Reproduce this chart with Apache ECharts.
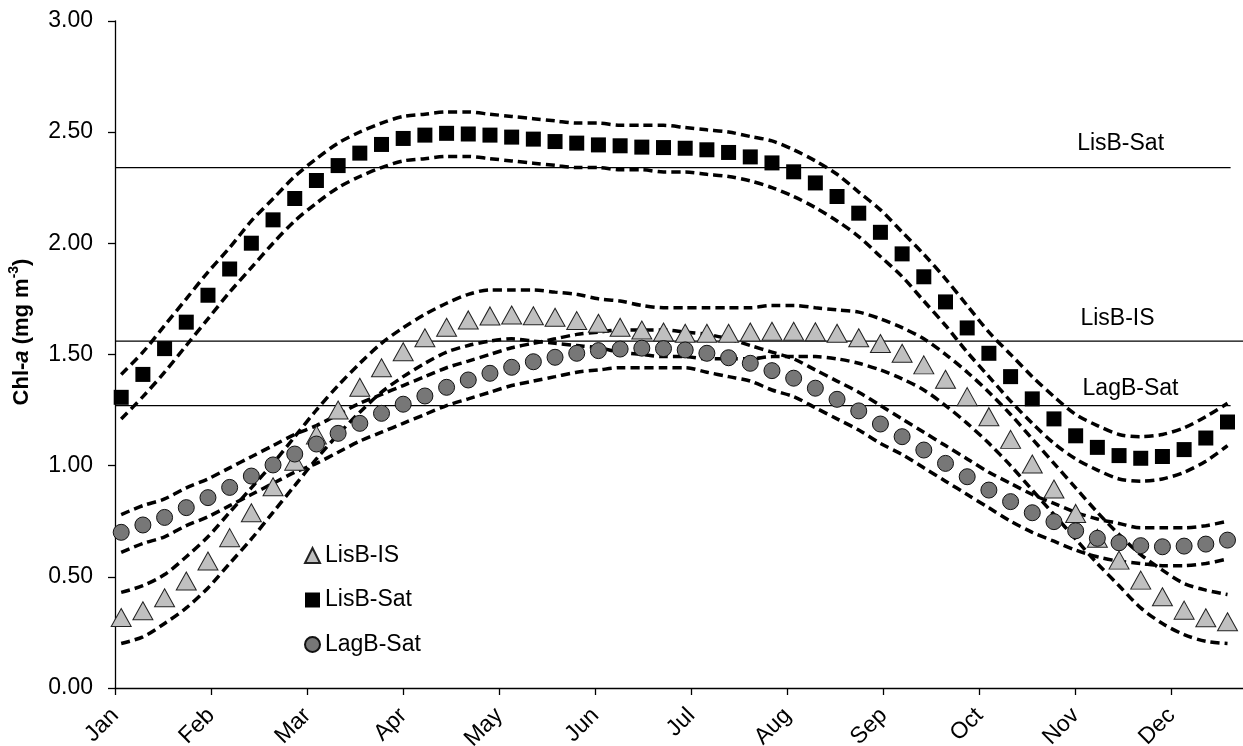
<!DOCTYPE html>
<html>
<head>
<meta charset="utf-8">
<script src="https://cdn.jsdelivr.net/npm/echarts@6/dist/echarts.min.js"></script>
<style>html,body{margin:0;padding:0;background:#fff}#c{width:1243px;height:746px}</style>
</head>
<body>
<div id="c"></div>
<script>
// ---- data ----
const MONTHS = ['Jan','Feb','Mar','Apr','May','Jun','Jul','Aug','Sep','Oct','Nov','Dec'];
const MONTH_STEP = 31;                       // axis day units between month ticks
const WEEK_DAYS = Array.from({length: 52}, (_, i) => 2 + 7 * i);  // weekly sample positions

const LISB_IS = [0.317,0.347,0.406,0.481,0.571,0.676,0.788,0.905,1.020,1.138,1.250,1.352,1.440,1.512,1.575,1.622,1.655,1.673,1.677,1.674,1.667,1.652,1.640,1.622,1.610,1.601,1.595,1.595,1.595,1.601,1.604,1.604,1.602,1.595,1.575,1.549,1.505,1.453,1.388,1.310,1.220,1.118,1.007,0.895,0.785,0.673,0.575,0.485,0.410,0.350,0.316,0.298];
const LISB_SAT = [1.307,1.410,1.526,1.645,1.766,1.884,2.000,2.105,2.201,2.282,2.349,2.405,2.444,2.471,2.486,2.494,2.491,2.486,2.477,2.468,2.457,2.450,2.442,2.438,2.432,2.430,2.427,2.420,2.408,2.388,2.361,2.321,2.271,2.210,2.135,2.049,1.952,1.849,1.736,1.619,1.505,1.400,1.300,1.210,1.134,1.082,1.045,1.033,1.041,1.072,1.124,1.196];
const LAGB_SAT = [0.700,0.733,0.767,0.811,0.856,0.902,0.953,1.003,1.052,1.097,1.145,1.190,1.235,1.276,1.313,1.352,1.385,1.415,1.442,1.467,1.487,1.505,1.517,1.524,1.528,1.526,1.520,1.505,1.485,1.460,1.427,1.393,1.348,1.298,1.246,1.187,1.130,1.070,1.010,0.950,0.890,0.838,0.788,0.748,0.707,0.673,0.653,0.640,0.635,0.638,0.647,0.665];

const LISB_SAT_UP = [1.41,1.51,1.63,1.75,1.87,1.98,2.10,2.20,2.30,2.38,2.45,2.50,2.54,2.57,2.58,2.59,2.59,2.58,2.57,2.56,2.55,2.54,2.54,2.53,2.53,2.53,2.52,2.51,2.50,2.48,2.46,2.42,2.37,2.31,2.23,2.15,2.05,1.95,1.84,1.72,1.60,1.50,1.40,1.31,1.23,1.18,1.14,1.13,1.14,1.17,1.22,1.28];
const LISB_SAT_LO = [1.21,1.31,1.42,1.54,1.66,1.78,1.89,2.00,2.10,2.18,2.25,2.30,2.34,2.37,2.38,2.39,2.39,2.38,2.37,2.36,2.35,2.34,2.34,2.33,2.33,2.32,2.32,2.31,2.30,2.28,2.25,2.21,2.16,2.10,2.03,1.94,1.85,1.74,1.63,1.51,1.40,1.29,1.19,1.10,1.03,0.98,0.94,0.93,0.94,0.97,1.02,1.09];
const LISB_IS_UP = [0.43,0.46,0.51,0.59,0.68,0.79,0.90,1.01,1.13,1.25,1.36,1.46,1.55,1.62,1.68,1.73,1.77,1.79,1.79,1.79,1.78,1.77,1.75,1.74,1.72,1.71,1.71,1.71,1.71,1.71,1.72,1.72,1.71,1.70,1.69,1.66,1.62,1.57,1.50,1.42,1.33,1.23,1.12,1.01,0.90,0.79,0.69,0.60,0.53,0.47,0.44,0.42];
const LISB_IS_LO = [0.20,0.23,0.29,0.36,0.45,0.56,0.67,0.79,0.91,1.03,1.14,1.24,1.33,1.40,1.46,1.51,1.54,1.56,1.57,1.56,1.55,1.54,1.53,1.51,1.50,1.49,1.49,1.48,1.48,1.48,1.49,1.49,1.49,1.48,1.46,1.43,1.39,1.34,1.27,1.19,1.10,1.00,0.89,0.78,0.67,0.56,0.46,0.36,0.29,0.24,0.21,0.20];
const LAGB_SAT_UP = [0.78,0.82,0.85,0.90,0.94,0.99,1.04,1.09,1.14,1.18,1.23,1.28,1.32,1.36,1.40,1.44,1.47,1.50,1.53,1.55,1.57,1.59,1.60,1.61,1.61,1.61,1.60,1.59,1.57,1.54,1.51,1.48,1.43,1.38,1.33,1.27,1.21,1.15,1.09,1.03,0.97,0.92,0.87,0.83,0.79,0.76,0.74,0.72,0.72,0.72,0.73,0.75];
const LAGB_SAT_LO = [0.61,0.65,0.68,0.73,0.77,0.82,0.87,0.92,0.97,1.01,1.06,1.11,1.15,1.19,1.23,1.27,1.30,1.33,1.36,1.38,1.40,1.42,1.43,1.44,1.44,1.44,1.44,1.42,1.40,1.38,1.34,1.31,1.26,1.21,1.16,1.10,1.05,0.99,0.93,0.87,0.81,0.75,0.70,0.66,0.62,0.59,0.57,0.56,0.55,0.55,0.56,0.58];

const REF_NAMES = ['LisB-Sat', 'LisB-IS', 'LagB-Sat'];
const REF_VALUES = [2.34, 1.56, 1.27];
const REF_END_DAYS = [360, 364, 360];
const Y_TICKS = [0, 0.5, 1.0, 1.5, 2.0, 2.5, 3.0];

// ---- styling ----
const FONT = '"Liberation Sans", Arial, Helvetica, sans-serif';
const FS = 23;
const LABEL_DAYS = [324.5, 323.5, 327.7];
const LABEL_RISE = [24, 22, 17];

const pts = arr => WEEK_DAYS.map((d, i) => [d, arr[i]]);
const dashed = arr => ({
  type: 'line', data: pts(arr), symbol: 'none', showSymbol: false, smooth: 0.3,
  silent: true, z: 2, legendHoverLink: false,
  lineStyle: { color: '#000', width: 3.5, type: [9, 5] }
});

const chart = echarts.init(document.getElementById('c'), null, { renderer: 'canvas' });

const series = [];
REF_VALUES.forEach((v, i) => series.push({
  type: 'line', data: [[0, v], [REF_END_DAYS[i], v]], symbol: 'none', silent: true, z: 1,
  lineStyle: { color: '#000', width: 1.3 }
}));
[LISB_SAT_UP, LISB_SAT_LO, LISB_IS_UP, LISB_IS_LO, LAGB_SAT_UP, LAGB_SAT_LO].forEach(a => series.push(dashed(a)));
series.push({
  name: 'LisB-IS', type: 'scatter', symbol: 'triangle', symbolSize: [20, 18], z: 3,
  itemStyle: { color: '#c0c0c0', borderColor: '#222', borderWidth: 1, opacity: 1 },
  data: pts(LISB_IS)
});
series.push({
  name: 'LisB-Sat', type: 'scatter', symbol: 'rect', symbolSize: 15, z: 4,
  itemStyle: { color: '#000', opacity: 1 },
  data: pts(LISB_SAT)
});
series.push({
  name: 'LagB-Sat', type: 'scatter', symbol: 'circle', symbolSize: 16, z: 5,
  itemStyle: { color: '#777', borderColor: '#111', borderWidth: 1, opacity: 1 },
  data: pts(LAGB_SAT)
});

chart.setOption({
  animation: false,
  backgroundColor: '#fff',
  grid: { left: 115, right: 0, top: 20.8, bottom: 58, containLabel: false, outerBoundsMode: 'none' },
  xAxis: {
    type: 'value', min: 0, max: 364, interval: MONTH_STEP,
    axisLine: { show: true, lineStyle: { color: '#000', width: 1.3 } },
    axisTick: { show: true, length: 7, lineStyle: { color: '#000', width: 1.3 } },
    axisLabel: {
      rotate: 45, margin: 24, fontSize: FS, color: '#000', fontFamily: FONT,
      showMaxLabel: false, hideOverlap: false,
      formatter: v => (v % MONTH_STEP === 0 && v / MONTH_STEP < MONTHS.length) ? MONTHS[v / MONTH_STEP] : ''
    },
    splitLine: { show: false }
  },
  yAxis: {
    type: 'value', min: Y_TICKS[0], max: Y_TICKS[Y_TICKS.length - 1], interval: 0.5,
    axisLine: { show: true, lineStyle: { color: '#000', width: 1.3 } },
    axisTick: { show: true, length: 7, lineStyle: { color: '#000', width: 1.3 } },
    axisLabel: { margin: 22, fontSize: FS, color: '#000', fontFamily: FONT, formatter: v => v.toFixed(2) },
    splitLine: { show: false }
  },
  legend: {
    orient: 'vertical', left: 299, top: 539, itemWidth: 15, itemHeight: 15, itemGap: 21.5,
    selectedMode: false, data: ['LisB-IS', 'LisB-Sat', 'LagB-Sat'],
    textStyle: { fontSize: FS, color: '#000', fontFamily: FONT }
  },
  series: series
});

const graphics = REF_NAMES.map((n, i) => {
  const p = chart.convertToPixel({ gridIndex: 0 }, [LABEL_DAYS[i], REF_VALUES[i]]);
  return {
    type: 'text', x: p[0], y: p[1] - LABEL_RISE[i], silent: true,
    style: { text: n, fontSize: FS, fontFamily: FONT, fill: '#000', align: 'center', verticalAlign: 'middle' }
  };
});
graphics.push({
  type: 'text', x: 22, y: 332, rotation: Math.PI / 2, silent: true,
  style: {
    text: '{b|Chl-}{i|a}{b| (mg m}{s|-3}{b|)}',
    align: 'center', verticalAlign: 'middle', fill: '#000',
    rich: {
      b: { fontSize: 22, fontWeight: 'bold', fontFamily: FONT, fill: '#000', lineHeight: 30 },
      i: { fontSize: 22, fontWeight: 'bold', fontStyle: 'italic', fontFamily: FONT, fill: '#000', lineHeight: 30 },
      s: { fontSize: 14, fontWeight: 'bold', fontFamily: FONT, fill: '#000', verticalAlign: 'top' }
    }
  }
});
chart.setOption({ graphic: graphics });
</script>
</body>
</html>
